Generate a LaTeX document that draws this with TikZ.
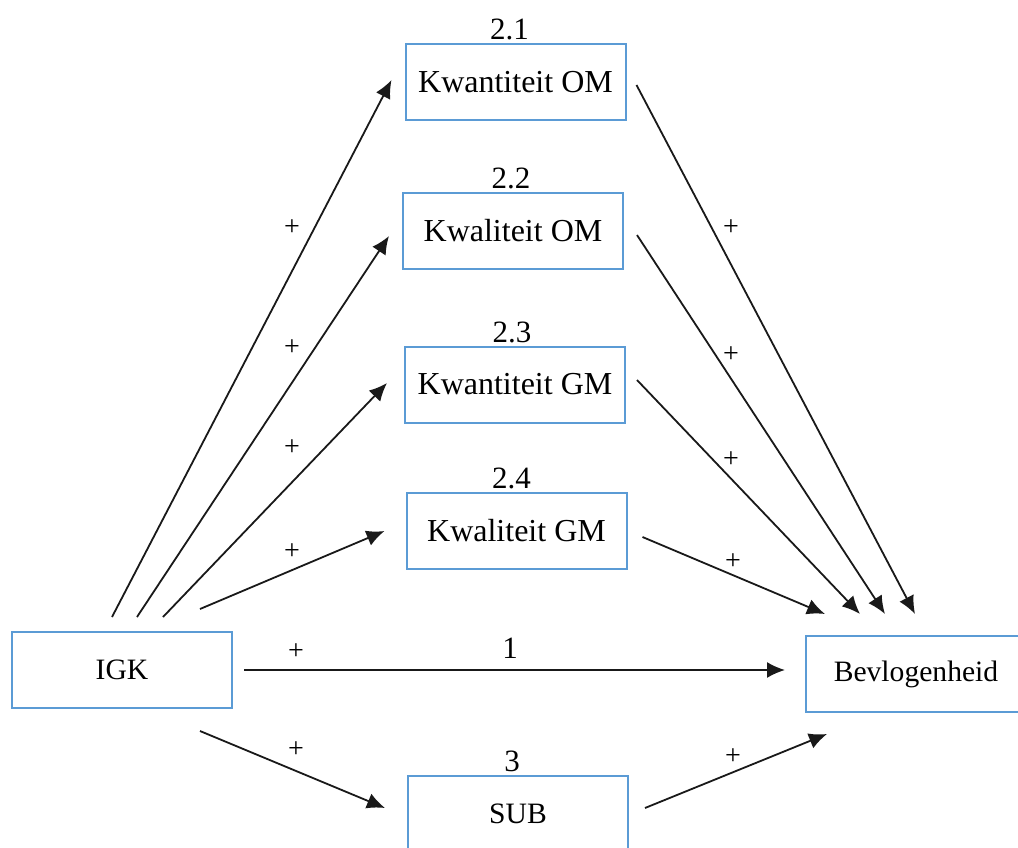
\documentclass[tikz,border=0pt]{standalone}
\usepackage{fontspec}
\setmainfont{Liberation Serif}
\usetikzlibrary{arrows.meta}
\definecolor{boxblue}{RGB}{91,155,213}

\tikzset{
  box/.style={draw=boxblue, line width=1pt, fill=white, minimum width=110pt,
    minimum height=38pt, inner sep=0pt, font=\fontsize{16}{18}\selectfont},
  smallbox/.style={box, font=\fontsize{14.8}{17}\selectfont},
  arr/.style={-{Latex[length=9pt,width=8pt]}, line width=0.9pt, black!90},
  plus/.style={font=\fontsize{14}{16}\selectfont},
  num/.style={font=\fontsize{15.5}{17}\selectfont}
}

\begin{document}
\begin{tikzpicture}[x=0.5pt,y=-0.5pt]
	\clip (0,0) rectangle (1018,847);
	% boxes
	\node [smallbox] (igk) at (122,670) {IGK};
	\node [smallbox] (bev) at (916,674) {Bevlogenheid};
	\node [box, label={[num,label distance=-2pt,xshift=-3pt]above:2.1}] (kwom) at (515.5,82) {Kwantiteit OM};
	\node [box, label={[num,label distance=-2pt,xshift=-1pt]above:2.2}] (kwalom) at (513,231) {Kwaliteit OM};
	\node [box, label={[num,label distance=-2pt,xshift=-1.5pt]above:2.3}] (kwgm) at (515,384.5) {Kwantiteit GM};
	\node [box, label={[num,label distance=-2pt,xshift=-2.5pt]above:2.4}] (kwalgm) at (516.5,531) {Kwaliteit GM};
	\node [smallbox, label={[num,label distance=-2pt,xshift=-3pt]above:3}] (sub) at (518,814) {SUB};

	% IGK to mediators
	\draw [arr] ([xshift=-5pt,yshift=7pt]igk.north) -- ([xshift=-6.5pt,yshift=1pt]kwom.west);
	\draw [arr] ([xshift=7.5pt,yshift=7pt]igk.north) -- ([xshift=-6.5pt,yshift=-2.5pt]kwalom.west);
	\draw [arr] ([xshift=20.5pt,yshift=7pt]igk.north) -- ([xshift=-8.5pt,yshift=0.75pt]kwgm.west);
	\draw [arr] ([xshift=39pt,yshift=11pt]igk.north) -- ([xshift=-10.5pt]kwalgm.west);
	\draw [arr] ([xshift=5.5pt]igk.east) -- ([xshift=-10pt,yshift=2pt]bev.west);
	\draw [arr] ([xshift=39pt,yshift=-11pt]igk.south) -- ([xshift=-11pt,yshift=3pt]sub.west);

	% mediators to Bevlogenheid
	\draw [arr] ([xshift=5pt,yshift=-1.5pt]kwom.east) -- ([xshift=-0.5pt,yshift=10.5pt]bev.north);
	\draw [arr] ([xshift=6.5pt,yshift=-2pt]kwalom.east) -- ([xshift=-15.5pt,yshift=10.5pt]bev.north);
	\draw [arr] ([xshift=5.5pt,yshift=2.25pt]kwgm.east) -- ([xshift=-28pt,yshift=10.5pt]bev.north);
	\draw [arr] ([xshift=7.5pt,yshift=-3pt]kwalgm.east) -- ([xshift=-45.5pt,yshift=10.5pt]bev.north);
	\draw [arr] ([xshift=8pt,yshift=3pt]sub.east) -- ([xshift=11pt,yshift=-10.5pt]bev.south west);

	% signs
	\node [plus] (pl1) at (292,228) {+};
	\node [plus] (pl2) at (292,348) {+};
	\node [plus] (pl3) at (292,448) {+};
	\node [plus] (pl4) at (292,552) {+};
	\node [plus] (pl5) at (296,652) {+};
	\node [plus] (pl6) at (296,750) {+};
	\node [plus] (pr1) at (731,228) {+};
	\node [plus] (pr2) at (731,355) {+};
	\node [plus] (pr3) at (731,460) {+};
	\node [plus] (pr4) at (733,562) {+};
	\node [plus] (pr5) at (733,757) {+};
	\node [num] (direct) at (510,648) {1};
\end{tikzpicture}
\end{document}
